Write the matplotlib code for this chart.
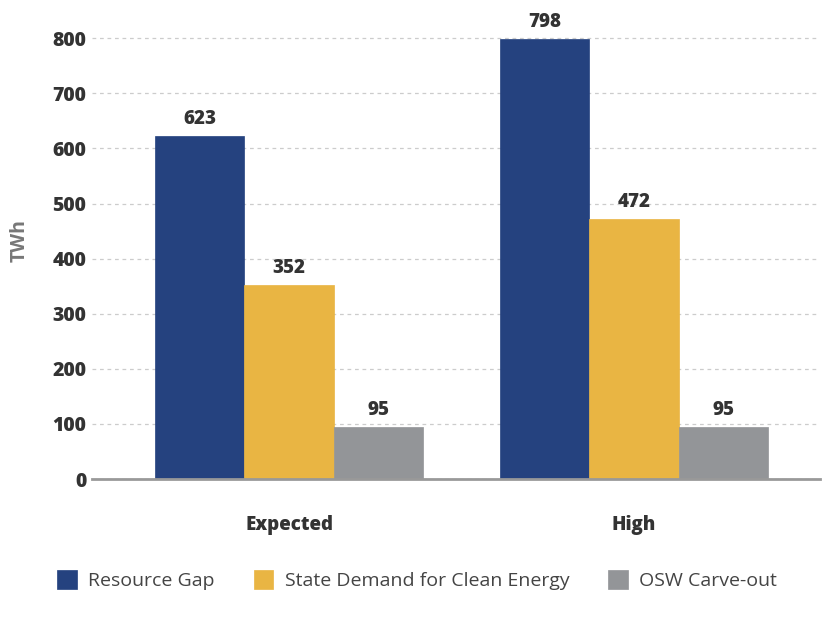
import matplotlib
matplotlib.use("Agg")
import matplotlib.pyplot as plt
import numpy as np

categories = ["Expected", "High"]
series_names = ["Resource Gap", "State Demand for Clean Energy", "OSW Carve-out"]
resource_gap = [623, 798]
state_demand = [352, 472]
osw_carveout = [95, 95]
colors = ["#25427F", "#E9B543", "#939598"]
yticks = [0, 100, 200, 300, 400, 500, 600, 700, 800]

plt.rcParams["font.family"] = ["Open Sans", "DejaVu Sans"]

fig = plt.figure(figsize=(8.26, 6.2), dpi=100)
ax = fig.add_axes([0.1114, 0.2274, 0.8813, 0.7403])

x = np.arange(len(categories))
w = 0.259
all_series = [resource_gap, state_demand, osw_carveout]
for i, (vals, name, c) in enumerate(zip(all_series, series_names, colors)):
    bars = ax.bar(x + (i - 1) * w, vals, width=w, color=c, label=name,
                  edgecolor=c, linewidth=0.5, zorder=3)
    for b, v in zip(bars, vals):
        ax.text(b.get_x() + b.get_width() / 2, v + 13, f"{v}", ha="center", va="bottom",
                fontsize=13.5, fontweight="heavy", color="#333333", zorder=4)

ax.set_xlim(-0.571, 1.539)
ax.set_ylim(0, 833)
ax.set_yticks(yticks)
ax.set_yticklabels([str(t) for t in yticks], fontsize=14, fontweight="heavy", color="#333333")
ax.set_xticks(x)
ax.set_xticklabels(categories, fontsize=13.5, fontweight="heavy", color="#333333")
ax.tick_params(axis="x", length=0, pad=26)
ax.tick_params(axis="y", length=0, pad=4)
ax.yaxis.grid(True, linestyle=(0, (3, 3)), color="#cccccc", linewidth=0.9, zorder=0)
ax.set_axisbelow(True)
for s in ["top", "right", "left"]:
    ax.spines[s].set_visible(False)
ax.spines["bottom"].set_color("#999999")
ax.spines["bottom"].set_linewidth(2)
ax.spines["bottom"].set_zorder(5)
ax.set_ylabel("TWh", fontsize=14, color="#777777", fontweight="bold")
ax.yaxis.set_label_coords(-0.086, 0.52)

fig.legend(loc="center", bbox_to_anchor=(0.505, 0.064), ncol=3, frameon=False,
           fontsize=14, handlelength=1.0, handleheight=1.1, columnspacing=2.0,
           handletextpad=0.6, labelcolor="#444444")

fig.savefig("out.png", dpi=100)
